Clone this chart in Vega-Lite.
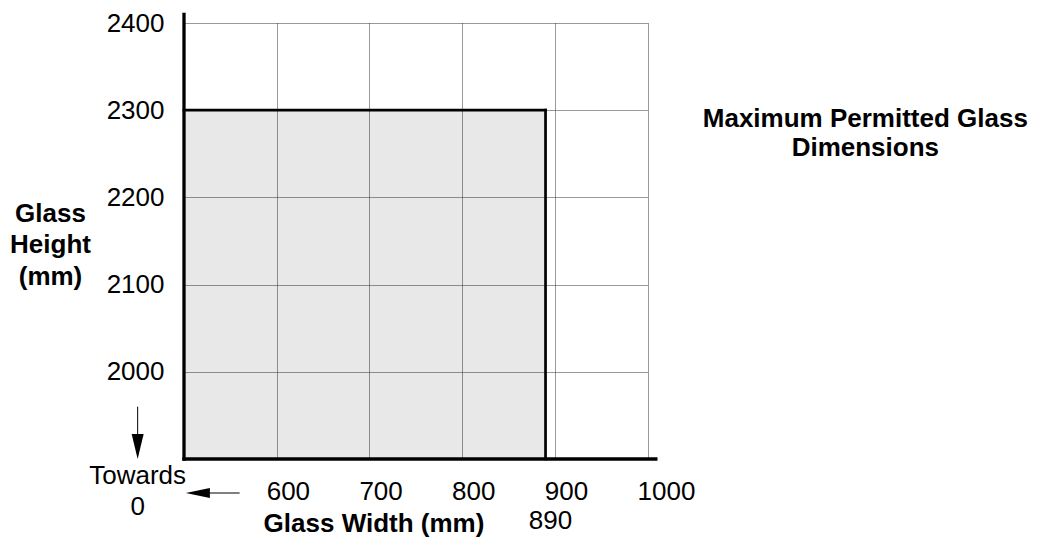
{
  "$schema": "https://vega.github.io/schema/vega-lite/v6.json",
  "autosize": "none",
  "width": 463.5,
  "height": 436,
  "padding": {"left": 184, "top": 23, "right": 399.5, "bottom": 78},
  "background": "white",
  "config": {"view": {"stroke": null}, "font": "Liberation Sans"},
  "encoding": {
    "x": {
      "field": "x", "type": "quantitative",
      "scale": {"domain": [500, 1000], "nice": false, "zero": false},
      "axis": {
        "values": [600, 700, 800, 900, 1000],
        "format": "d",
        "title": "Glass Width (mm)",
        "domain": false, "ticks": false, "tickSize": 0,
        "labelPadding": 19, "labelFontSize": 26, "labelFont": "Liberation Sans", "labelColor": "black",
        "labelFlush": false, "labelOverlap": false, "labelAlign": "left", "labelOffset": -10.5, "labelBaseline": "top",
        "grid": true, "gridColor": "#333", "gridDash": [1, 1], "gridWidth": 1, "gridOpacity": 1,
        "titleFontSize": 26, "titleFontWeight": "bold", "titleFont": "Liberation Sans", "titleColor": "black",
        "titleX": 189.5, "titleY": 64, "titleAlign": "center", "titleBaseline": "middle", "titleAnchor": "start"
      }
    },
    "y": {
      "field": "y", "type": "quantitative",
      "scale": {"domain": [1900, 2400], "nice": false, "zero": false},
      "axis": {
        "values": [2000, 2100, 2200, 2300, 2400],
        "format": "d",
        "title": ["Glass", "Height", "(mm)"],
        "domain": false, "ticks": false, "tickSize": 0,
        "labelPadding": 20, "labelFontSize": 26, "labelFont": "Liberation Sans", "labelColor": "black",
        "labelFlush": false, "labelOverlap": false, "labelAlign": "right", "labelBaseline": "middle",
        "grid": true, "gridColor": "#333", "gridDash": [1, 1], "gridWidth": 1, "gridOpacity": 1,
        "titleFontSize": 26, "titleFontWeight": "bold", "titleFont": "Liberation Sans", "titleColor": "black",
        "titleAngle": 0, "titleX": -134, "titleY": 190, "titleAlign": "center", "titleBaseline": "middle",
        "titleLineHeight": 31.5, "titleAnchor": "start"
      }
    }
  },
  "layer": [
    {
      "data": {"values": [{"x": 500, "x2": 890, "y": 1900, "y2": 2300}]},
      "mark": {"type": "rect", "fill": "black", "fillOpacity": 0.09, "strokeWidth": 0},
      "encoding": {"x2": {"field": "x2"}, "y2": {"field": "y2"}}
    },
    {
      "data": {"values": [
        {"x": 500, "x2": 890, "y": 2300, "y2": 2300},
        {"x": 890, "x2": 890, "y": 1900, "y2": 2300}
      ]},
      "mark": {"type": "rule", "color": "black", "strokeWidth": 2.7, "strokeCap": "square"},
      "encoding": {"x2": {"field": "x2"}, "y2": {"field": "y2"}}
    },
    {
      "data": {"values": [
        {"x": 500, "x2": 500, "y": 1900, "y2": 2410},
        {"x": 500, "x2": 1009, "y": 1900, "y2": 1900}
      ]},
      "mark": {"type": "rule", "color": "black", "strokeWidth": 3.3, "strokeCap": "square"},
      "encoding": {"x2": {"field": "x2"}, "y2": {"field": "y2"}}
    },
    {
      "data": {"values": [
        {"x": 450, "x2": 450, "y": 1960, "y2": 1910},
        {"x": 510, "x2": 560, "y": 1861, "y2": 1861}
      ]},
      "mark": {"type": "rule", "color": "black", "strokeWidth": 1},
      "encoding": {"x2": {"field": "x2"}, "y2": {"field": "y2"}}
    },
    {
      "data": {"values": [
        {"x": 450, "y": 1900, "dir": "down"},
        {"x": 502, "y": 1861, "dir": "left"}
      ]},
      "mark": {"type": "point", "filled": true, "color": "black", "opacity": 1, "size": 100, "strokeWidth": 0},
      "encoding": {
        "shape": {"field": "dir", "type": "nominal", "legend": null,
          "scale": {"domain": ["down", "left"], "range": ["M-1.2,-5L1.2,-5L0,0Z", "M0,0L4.8,-1L4.8,1Z"]}}
      }
    },
    {
      "data": {"values": [
        {"x": 450, "y": 1880.5, "label": "Towards\n0"}
      ]},
      "mark": {"type": "text", "font": "Liberation Sans", "fontSize": 26, "color": "black", "align": "center", "baseline": "middle", "lineBreak": "\n", "lineHeight": 31},
      "encoding": {"text": {"field": "label"}}
    },
    {
      "data": {"values": [
        {"x": 890, "y": 1829, "label": "890"}
      ]},
      "mark": {"type": "text", "font": "Liberation Sans", "fontSize": 26, "color": "black", "align": "center", "baseline": "middle", "dx": 5},
      "encoding": {"text": {"field": "label"}}
    },
    {
      "data": {"values": [
        {"x": 1235, "y": 2290, "label": "Maximum Permitted Glass\nDimensions"}
      ]},
      "mark": {"type": "text", "font": "Liberation Sans", "fontSize": 26, "fontWeight": "bold", "color": "black", "align": "center", "baseline": "middle", "lineBreak": "\n", "lineHeight": 29.5},
      "encoding": {"text": {"field": "label"}}
    }
  ]
}
